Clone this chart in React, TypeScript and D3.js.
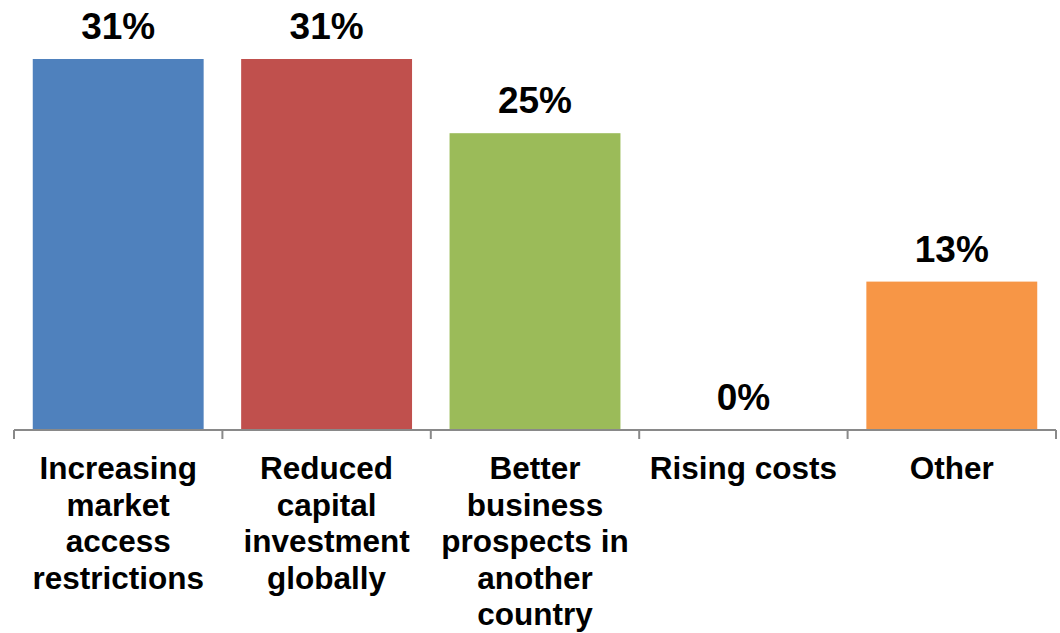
import React from "react";
import * as d3 from "d3";

const categories: string[][] = [
  ["Increasing", "market", "access", "restrictions"],
  ["Reduced", "capital", "investment", "globally"],
  ["Better", "business", "prospects in", "another", "country"],
  ["Rising costs"],
  ["Other"],
];
const values: number[] = [31.25, 31.25, 25, 0, 12.5];
const valueLabels: string[] = ["31%", "31%", "25%", "0%", "13%"];
const colors: string[] = ["#4F81BD", "#C0504D", "#9BBB59", "#4F81BD", "#F79646"];

const W = 1060;
const H = 633;
const baseY = 430;
const topY = 59;
const left = 14;
const right = 1056;

export default function App() {
  const idx = values.map((_, i) => String(i));
  const x = d3
    .scaleBand<string>()
    .domain(idx)
    .range([left, right])
    .paddingInner(0.18)
    .paddingOuter(0.09);
  const y = d3.scaleLinear().domain([0, 31.25]).range([baseY, topY]);
  const step = x.step();
  const font = "'Liberation Sans', Arial, sans-serif";
  const ticks = d3.range(values.length + 1).map((i) => left + i * step);

  return (
    <svg
      width={W}
      height={H}
      style={{ position: "absolute", left: 0, top: 0, background: "#fff" }}
    >
      {values.map((v, i) => {
        const bx = x(String(i))!;
        return (
          <rect
            key={"b" + i}
            x={bx}
            y={y(v)}
            width={x.bandwidth()}
            height={baseY - y(v)}
            fill={colors[i]}
          />
        );
      })}
      <line x1={left} x2={right} y1={baseY} y2={baseY} stroke="#898989" strokeWidth={2} />
      {ticks.map((t, i) => (
        <line key={"t" + i} x1={t} x2={t} y1={baseY} y2={baseY + 9} stroke="#898989" strokeWidth={2} />
      ))}
      {values.map((v, i) => (
        <text
          key={"v" + i}
          x={x(String(i))! + x.bandwidth() / 2}
          y={y(v) - 20}
          textAnchor="middle"
          fontFamily={font}
          fontWeight="bold"
          fontSize={37}
          fill="#000"
        >
          {valueLabels[i]}
        </text>
      ))}
      {categories.map((lines, i) => (
        <text
          key={"c" + i}
          x={x(String(i))! + x.bandwidth() / 2}
          y={479}
          textAnchor="middle"
          fontFamily={font}
          fontWeight="bold"
          fontSize={31.5}
          fill="#000"
        >
          {lines.map((ln, j) => (
            <tspan key={j} x={x(String(i))! + x.bandwidth() / 2} y={479 + j * 36.5}>
              {ln}
            </tspan>
          ))}
        </text>
      ))}
    </svg>
  );
}
